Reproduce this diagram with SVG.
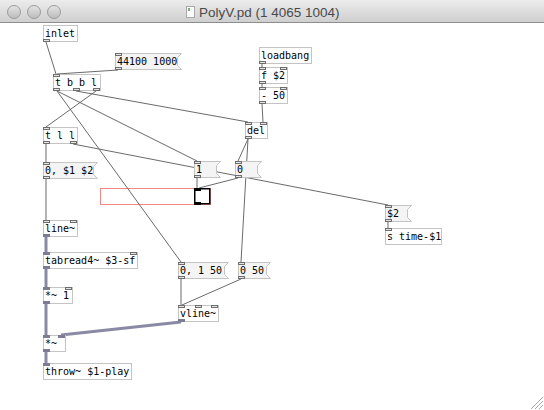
<svg xmlns="http://www.w3.org/2000/svg" width="544" height="410" viewBox="0 0 544 410">
<defs>
<linearGradient id="tb" x1="0" y1="0" x2="0" y2="1"><stop offset="0" stop-color="#ececec"/><stop offset="1" stop-color="#cfcfcf"/></linearGradient>
<linearGradient id="btn" x1="0" y1="0" x2="0" y2="1"><stop offset="0" stop-color="#e4e4e4"/><stop offset="1" stop-color="#bcbcbc"/></linearGradient>
</defs>
<style>
.o{fill:#fff;stroke:#c4c4c4;stroke-width:1}
.m{fill:#f4f4f4;stroke:#c4c4c4;stroke-width:1}
.p{fill:#e4e4e4;stroke:#6e6e6e;stroke-width:1}
.s{fill:#7c7c94;stroke:#7c7c94;stroke-width:1}
.t{font-family:"DejaVu Sans Mono","Liberation Mono",monospace;font-size:10px;fill:#000}
.c line{stroke:#6a6a6a;stroke-width:1}
.sg line{stroke:#8a8aa4;stroke-width:3}
.tl{font-family:"Liberation Sans","DejaVu Sans",sans-serif;font-size:13.5px;fill:#4a4a4a}
</style>
<rect x="0" y="0" width="544" height="410" fill="#fff"/>
<g id="titlebar">
<rect x="0" y="0" width="544" height="22" fill="url(#tb)"/>
<line x1="0" y1="22.5" x2="544" y2="22.5" stroke="#8e8e8e"/>
<circle cx="14" cy="12" r="6.5" fill="url(#btn)" stroke="#9c9c9c"/>
<circle cx="34" cy="12" r="6.5" fill="url(#btn)" stroke="#9c9c9c"/>
<circle cx="54" cy="12" r="6.5" fill="url(#btn)" stroke="#9c9c9c"/>
<rect x="186.5" y="6.5" width="8" height="11" fill="#fafafa" stroke="#a8a8a8"/>
<rect x="188" y="8" width="2" height="3" fill="#7ab07a"/>
<text class="tl" x="199" y="17">PolyV.pd (1 4065 1004)</text>
</g>
<g id="guibox">
<rect x="100.5" y="188.5" width="110" height="16" fill="#fff" stroke="#f08888"/>
</g>
<g id="connectors">
<g class="c">
<line x1="46" y1="42" x2="56" y2="74"/>
<line x1="118" y1="70" x2="57" y2="74"/>
<line x1="57" y1="91" x2="197" y2="161"/>
<line x1="57" y1="91" x2="181" y2="262"/>
<line x1="76" y1="91" x2="248" y2="122"/>
<line x1="96" y1="91" x2="46" y2="127"/>
<line x1="46" y1="144" x2="46" y2="162"/>
<line x1="73" y1="144" x2="388" y2="205"/>
<line x1="46" y1="179" x2="46" y2="220"/>
<line x1="262" y1="64" x2="262" y2="67"/>
<line x1="262" y1="84" x2="262" y2="87"/>
<line x1="262" y1="104" x2="263" y2="122"/>
<line x1="248" y1="139" x2="238" y2="161"/>
<line x1="248" y1="139" x2="241" y2="262"/>
<line x1="197" y1="178" x2="197" y2="188"/>
<line x1="238" y1="178" x2="199" y2="188"/>
<line x1="181" y1="279" x2="181" y2="305"/>
<line x1="241" y1="279" x2="182" y2="305"/>
<line x1="388" y1="222" x2="388" y2="228"/>
</g>
<g class="sg">
<line x1="46" y1="237" x2="46" y2="252"/>
<line x1="46" y1="269" x2="46" y2="287"/>
<line x1="46" y1="304" x2="46" y2="335"/>
<line x1="181" y1="322" x2="61" y2="335"/>
<line x1="46" y1="352" x2="46" y2="363"/>
</g>
</g>
<g id="inlet">
<rect class="o" x="43.5" y="25.5" width="34" height="16"/>
<rect class="p" x="43.5" y="39.5" width="6" height="2"/>
<text class="t" x="45" y="37">inlet</text>
</g>
<g id="msg44100">
<path class="m" d="M115.5,53.5 H181.5 L177.5,57.5 V65.5 L181.5,69.5 H115.5 Z"/>
<rect class="p" x="115.5" y="53.5" width="6" height="2"/>
<rect class="p" x="115.5" y="67.5" width="6" height="2"/>
<text class="t" x="117" y="65">44100 1000</text>
</g>
<g id="tbbl">
<rect class="o" x="53.5" y="74.5" width="47" height="16"/>
<rect class="p" x="53.5" y="74.5" width="6" height="2"/>
<rect class="p" x="53.5" y="88.5" width="6" height="2"/>
<rect class="p" x="73.5" y="88.5" width="6" height="2"/>
<rect class="p" x="93.5" y="88.5" width="6" height="2"/>
<text class="t" x="55" y="86">t b b l</text>
</g>
<g id="tll">
<rect class="o" x="43.5" y="127.5" width="34" height="16"/>
<rect class="p" x="43.5" y="127.5" width="6" height="2"/>
<rect class="p" x="43.5" y="141.5" width="6" height="2"/>
<rect class="p" x="70.5" y="141.5" width="6" height="2"/>
<text class="t" x="45" y="139">t l l</text>
</g>
<g id="msg0s1s2">
<path class="m" d="M43.5,162.5 H97.5 L93.5,166.5 V174.5 L97.5,178.5 H43.5 Z"/>
<rect class="p" x="43.5" y="162.5" width="6" height="2"/>
<rect class="p" x="43.5" y="176.5" width="6" height="2"/>
<text class="t" x="45" y="174">0, $1 $2</text>
</g>
<g id="line">
<rect class="o" x="43.5" y="220.5" width="34" height="16"/>
<rect class="p" x="43.5" y="220.5" width="6" height="2"/>
<rect class="p" x="70.5" y="220.5" width="6" height="2"/>
<rect class="s" x="43.5" y="234.5" width="6" height="2"/>
<text class="t" x="45" y="232">line~</text>
</g>
<g id="tabread">
<rect class="o" x="43.5" y="252.5" width="94" height="16"/>
<rect class="s" x="43.5" y="252.5" width="6" height="2"/>
<rect class="p" x="130.5" y="252.5" width="6" height="2"/>
<rect class="s" x="43.5" y="266.5" width="6" height="2"/>
<text class="t" x="45" y="264">tabread4~ $3-sf</text>
</g>
<g id="mul1">
<rect class="o" x="43.5" y="287.5" width="29" height="16"/>
<rect class="s" x="43.5" y="287.5" width="6" height="2"/>
<rect class="p" x="65.5" y="287.5" width="6" height="2"/>
<rect class="s" x="43.5" y="301.5" width="6" height="2"/>
<text class="t" x="45" y="299">*~ 1</text>
</g>
<g id="mul2">
<rect class="o" x="43.5" y="335.5" width="22" height="16"/>
<rect class="s" x="43.5" y="335.5" width="6" height="2"/>
<rect class="s" x="58.5" y="335.5" width="6" height="2"/>
<rect class="s" x="43.5" y="349.5" width="6" height="2"/>
<text class="t" x="45" y="347">*~</text>
</g>
<g id="throw">
<rect class="o" x="43.5" y="363.5" width="88" height="16"/>
<rect class="s" x="43.5" y="363.5" width="6" height="2"/>
<text class="t" x="45" y="375">throw~ $1-play</text>
</g>
<g id="loadbang">
<rect class="o" x="259.5" y="47.5" width="52" height="16"/>
<rect class="p" x="259.5" y="61.5" width="6" height="2"/>
<text class="t" x="261" y="59">loadbang</text>
</g>
<g id="f2">
<rect class="o" x="259.5" y="67.5" width="28" height="16"/>
<rect class="p" x="259.5" y="67.5" width="6" height="2"/>
<rect class="p" x="280.5" y="67.5" width="6" height="2"/>
<rect class="p" x="259.5" y="81.5" width="6" height="2"/>
<text class="t" x="261" y="79">f $2</text>
</g>
<g id="minus50">
<rect class="o" x="259.5" y="87.5" width="28" height="16"/>
<rect class="p" x="259.5" y="87.5" width="6" height="2"/>
<rect class="p" x="280.5" y="87.5" width="6" height="2"/>
<rect class="p" x="259.5" y="101.5" width="6" height="2"/>
<text class="t" x="261" y="99">- 50</text>
</g>
<g id="del">
<rect class="o" x="245.5" y="122.5" width="22" height="16"/>
<rect class="p" x="245.5" y="122.5" width="6" height="2"/>
<rect class="p" x="260.5" y="122.5" width="6" height="2"/>
<rect class="p" x="245.5" y="136.5" width="6" height="2"/>
<text class="t" x="247" y="134">del</text>
</g>
<g id="msg1">
<path class="m" d="M194.5,161.5 H220.5 L216.5,165.5 V173.5 L220.5,177.5 H194.5 Z"/>
<rect class="p" x="194.5" y="161.5" width="6" height="2"/>
<rect class="p" x="194.5" y="175.5" width="6" height="2"/>
<text class="t" x="196" y="173">1</text>
</g>
<g id="msg0">
<path class="m" d="M235.5,161.5 H261.5 L257.5,165.5 V173.5 L261.5,177.5 H235.5 Z"/>
<rect class="p" x="235.5" y="161.5" width="6" height="2"/>
<rect class="p" x="235.5" y="175.5" width="6" height="2"/>
<text class="t" x="237" y="173">0</text>
</g>
<g id="toggle">
<rect x="194.75" y="188.75" width="15" height="15" fill="#fff" stroke="#000" stroke-width="1.5"/>
<rect x="194" y="188" width="7" height="3" fill="#000"/>
<rect x="194" y="202" width="7" height="3" fill="#000"/>
</g>
<g id="msg0150">
<path class="m" d="M178.5,262.5 H228.5 L224.5,266.5 V274.5 L228.5,278.5 H178.5 Z"/>
<rect class="p" x="178.5" y="262.5" width="6" height="2"/>
<rect class="p" x="178.5" y="276.5" width="6" height="2"/>
<text class="t" x="180" y="274">0, 1 50</text>
</g>
<g id="msg050">
<path class="m" d="M238.5,262.5 H270.5 L266.5,266.5 V274.5 L270.5,278.5 H238.5 Z"/>
<rect class="p" x="238.5" y="262.5" width="6" height="2"/>
<rect class="p" x="238.5" y="276.5" width="6" height="2"/>
<text class="t" x="240" y="274">0 50</text>
</g>
<g id="vline">
<rect class="o" x="178.5" y="305.5" width="40" height="16"/>
<rect class="p" x="178.5" y="305.5" width="6" height="2"/>
<rect class="p" x="195.5" y="305.5" width="6" height="2"/>
<rect class="p" x="211.5" y="305.5" width="6" height="2"/>
<rect class="s" x="178.5" y="319.5" width="6" height="2"/>
<text class="t" x="180" y="317">vline~</text>
</g>
<g id="msgS2">
<path class="m" d="M385.5,205.5 H411.5 L407.5,209.5 V217.5 L411.5,221.5 H385.5 Z"/>
<rect class="p" x="385.5" y="205.5" width="6" height="2"/>
<rect class="p" x="385.5" y="219.5" width="6" height="2"/>
<text class="t" x="387" y="217">$2</text>
</g>
<g id="stime">
<rect class="o" x="385.5" y="228.5" width="56" height="16"/>
<rect class="p" x="385.5" y="228.5" width="6" height="2"/>
<text class="t" x="387" y="240">s time-$1</text>
</g>
<g id="grip" stroke="#a8a8a8" stroke-width="1">
<line x1="531" y1="409" x2="543" y2="397"/>
<line x1="535" y1="409" x2="543" y2="401"/>
<line x1="539" y1="409" x2="543" y2="405"/>
</g>
</svg>
